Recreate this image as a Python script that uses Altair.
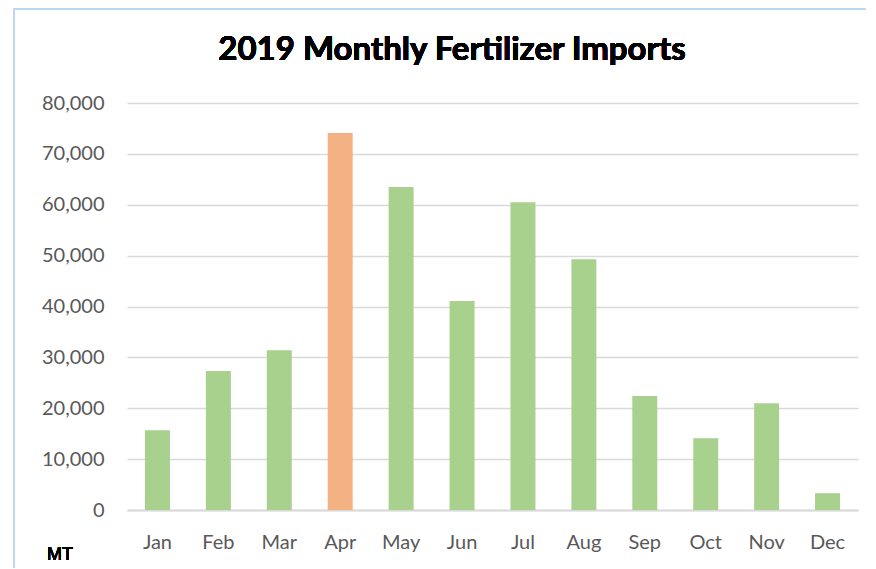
import altair as alt
import pandas as pd

months = ["Jan", "Feb", "Mar", "Apr", "May", "Jun", "Jul", "Aug", "Sep", "Oct", "Nov", "Dec"]
imports_mt = [15700, 27300, 31400, 74100, 63500, 41100, 60500, 49300, 22400, 14100, 21000, 3300]
highlight = ["no", "no", "no", "yes", "no", "no", "no", "no", "no", "no", "no", "no"]
y_ticks = [0, 10000, 20000, 30000, 40000, 50000, 60000, 70000, 80000]

df = pd.DataFrame({"month": months, "value": imports_mt, "hl": highlight})

FONT = "Lato"
W, H = 731, 407

bars = alt.Chart(df).mark_bar().encode(
    x=alt.X("month:N", sort=months,
            scale=alt.Scale(paddingInner=0.59),
            axis=alt.Axis(title=None, labelAngle=0, labelFontSize=20, labelColor="#595959",
                          labelFont=FONT, labelPadding=22, ticks=False, domain=True,
                          domainColor="#D9D9D9", domainWidth=2, grid=False)),
    y=alt.Y("value:Q", scale=alt.Scale(domain=[0, 80000]),
            axis=alt.Axis(title=None, values=y_ticks, format=",d", labelFontSize=20,
                          labelColor="#595959", labelFont=FONT, labelPadding=23,
                          ticks=False, domain=False, gridColor="#D9D9D9", gridWidth=1.5)),
    color=alt.Color("hl:N", scale=alt.Scale(domain=["no", "yes"], range=["#A9D18E", "#F4B183"]),
                    legend=None),
)

title = alt.Chart(df).mark_text(text="2019 Monthly Fertilizer Imports", font=FONT, fontSize=33,
                                fontWeight="bold", color="#000000", align="center",
                                baseline="middle").encode(
    x=alt.value(325), y=alt.value(-53))

mt = alt.Chart(df).mark_text(text="MT", font="Liberation Sans", fontSize=18, fontWeight="normal",
                             color="#000000", align="left", baseline="middle").encode(
    x=alt.value(-80), y=alt.value(45 + H))

border_left = alt.Chart(df).mark_rule(color="#BDD7EE", strokeWidth=2).encode(
    x=alt.value(-113), y=alt.value(-95), y2=alt.value(470))
border_top = alt.Chart(df).mark_rule(color="#BDD7EE", strokeWidth=2).encode(
    y=alt.value(-94), x=alt.value(-113), x2=alt.value(745))

chart = alt.layer(bars, title, mt, border_left, border_top).properties(
    width=W, height=H,
    autosize=alt.AutoSizeParams(type="none"),
    padding={"left": 119, "top": 95, "right": 8, "bottom": 58},
).configure(background="white").configure_view(stroke=None, strokeWidth=0)

chart.save("out.html", embed_options={"renderer": "svg", "actions": False})
